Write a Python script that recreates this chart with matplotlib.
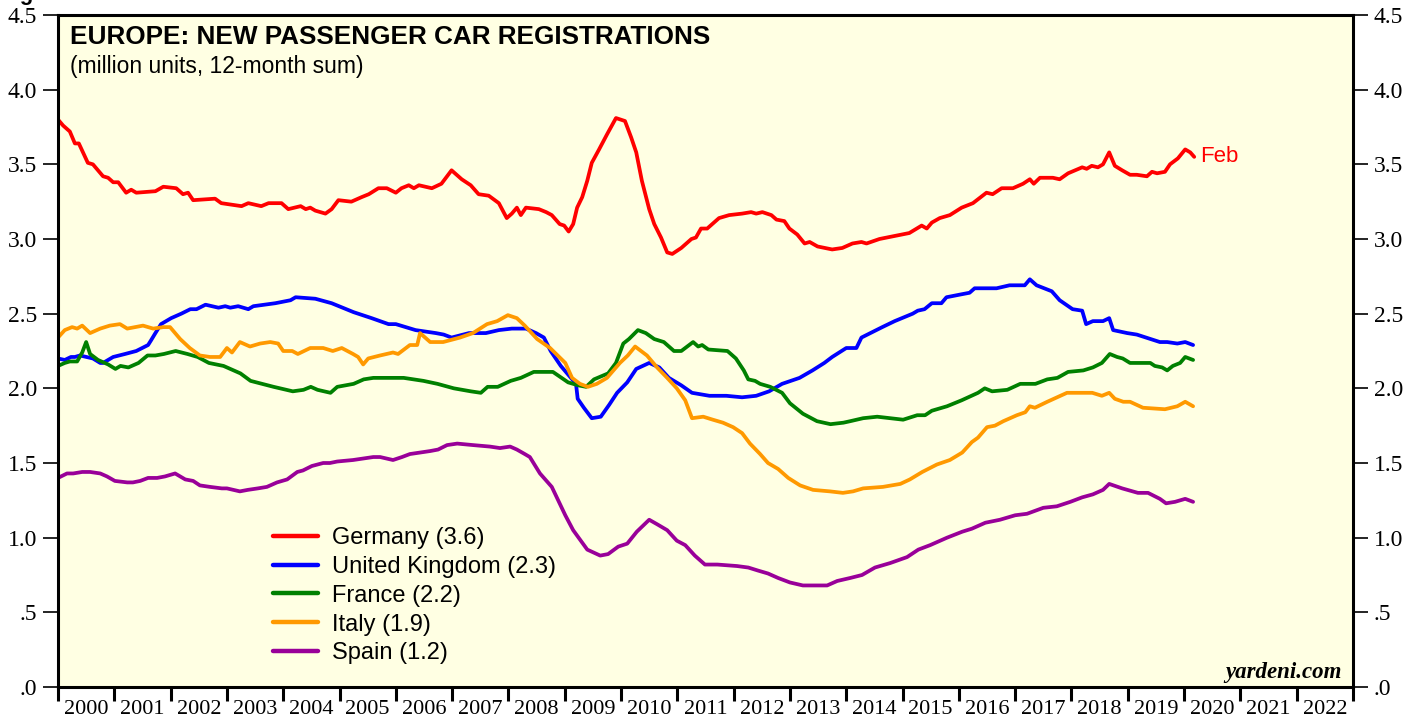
import matplotlib
matplotlib.use("Agg")
import matplotlib.pyplot as plt

# ---- data (decimal years / million units) ----
ge_t = [2000.00, 2000.09, 2000.21, 2000.30, 2000.37, 2000.53, 2000.62, 2000.80, 2000.89, 2000.98,
        2001.07, 2001.21, 2001.30, 2001.39, 2001.73, 2001.87, 2002.10, 2002.22, 2002.31, 2002.40,
        2002.79, 2002.90, 2003.26, 2003.38, 2003.61, 2003.74, 2003.97, 2004.09, 2004.31, 2004.40,
        2004.48, 2004.57, 2004.75, 2004.86, 2004.98, 2005.21, 2005.39, 2005.52, 2005.69, 2005.84,
        2006.00, 2006.10, 2006.23, 2006.32, 2006.41, 2006.64, 2006.81, 2006.99, 2007.17, 2007.33,
        2007.47, 2007.65, 2007.83, 2007.97, 2008.06, 2008.15, 2008.22, 2008.31, 2008.54, 2008.67,
        2008.77, 2008.91, 2008.99, 2009.07, 2009.15, 2009.22, 2009.31, 2009.40, 2009.48, 2009.61,
        2009.75, 2009.91, 2010.07, 2010.18, 2010.27, 2010.37, 2010.50, 2010.59, 2010.71, 2010.82,
        2010.91, 2011.07, 2011.25, 2011.33, 2011.42, 2011.53, 2011.74, 2011.92, 2012.15, 2012.31,
        2012.40, 2012.51, 2012.67, 2012.76, 2012.90, 2012.99, 2013.13, 2013.26, 2013.35, 2013.49,
        2013.75, 2013.93, 2014.11, 2014.27, 2014.36, 2014.59, 2014.86, 2015.12, 2015.34, 2015.43,
        2015.52, 2015.66, 2015.84, 2016.05, 2016.25, 2016.49, 2016.60, 2016.76, 2016.96, 2017.14,
        2017.26, 2017.33, 2017.44, 2017.67, 2017.79, 2017.94, 2018.19, 2018.27, 2018.36, 2018.47,
        2018.56, 2018.67, 2018.77, 2018.90, 2019.04, 2019.16, 2019.34, 2019.43, 2019.52, 2019.66,
        2019.75, 2019.89, 2020.02, 2020.11, 2020.18]
ge_v = [3.80, 3.76, 3.72, 3.64, 3.64, 3.51, 3.50, 3.42, 3.41, 3.38,
        3.38, 3.31, 3.33, 3.31, 3.32, 3.35, 3.34, 3.30, 3.31, 3.26,
        3.27, 3.24, 3.22, 3.24, 3.22, 3.24, 3.24, 3.20, 3.22, 3.20,
        3.21, 3.19, 3.17, 3.20, 3.26, 3.25, 3.28, 3.30, 3.34, 3.34,
        3.31, 3.34, 3.36, 3.34, 3.36, 3.34, 3.37, 3.46, 3.40, 3.36,
        3.30, 3.29, 3.24, 3.14, 3.17, 3.21, 3.16, 3.21, 3.20, 3.18,
        3.16, 3.10, 3.09, 3.05, 3.10, 3.21, 3.28, 3.39, 3.51, 3.60,
        3.70, 3.81, 3.79, 3.68, 3.58, 3.39, 3.20, 3.10, 3.01, 2.91,
        2.90, 2.94, 3.00, 3.01, 3.07, 3.07, 3.14, 3.16, 3.17, 3.18,
        3.17, 3.18, 3.16, 3.13, 3.12, 3.07, 3.03, 2.97, 2.98, 2.95,
        2.93, 2.94, 2.97, 2.98, 2.97, 3.00, 3.02, 3.04, 3.09, 3.07,
        3.11, 3.14, 3.16, 3.21, 3.24, 3.31, 3.30, 3.34, 3.34, 3.37,
        3.40, 3.37, 3.41, 3.41, 3.40, 3.44, 3.48, 3.47, 3.49, 3.48,
        3.50, 3.58, 3.49, 3.46, 3.43, 3.43, 3.42, 3.45, 3.44, 3.45,
        3.50, 3.54, 3.60, 3.58, 3.55]

uk_t = [2000.00, 2000.12, 2000.23, 2000.30, 2000.39, 2000.62, 2000.75, 2000.80, 2000.98, 2001.19,
        2001.39, 2001.60, 2001.65, 2001.73, 2001.83, 2002.01, 2002.19, 2002.35, 2002.46, 2002.62,
        2002.85, 2002.97, 2003.06, 2003.20, 2003.38, 2003.47, 2003.86, 2004.13, 2004.22, 2004.57,
        2004.86, 2005.25, 2005.57, 2005.87, 2006.00, 2006.35, 2006.71, 2006.85, 2006.99, 2007.30,
        2007.60, 2007.83, 2008.06, 2008.31, 2008.49, 2008.63, 2008.75, 2008.93, 2009.11, 2009.20,
        2009.23, 2009.34, 2009.48, 2009.64, 2009.79, 2009.93, 2010.11, 2010.27, 2010.50, 2010.68,
        2010.85, 2011.07, 2011.26, 2011.57, 2011.87, 2012.15, 2012.40, 2012.63, 2012.86, 2013.17,
        2013.40, 2013.61, 2013.75, 2014.00, 2014.18, 2014.27, 2014.64, 2014.86, 2015.18, 2015.27,
        2015.39, 2015.52, 2015.69, 2015.78, 2016.05, 2016.19, 2016.28, 2016.67, 2016.90, 2017.17,
        2017.26, 2017.38, 2017.65, 2017.79, 2018.02, 2018.19, 2018.26, 2018.38, 2018.56, 2018.67,
        2018.74, 2018.99, 2019.16, 2019.57, 2019.70, 2019.88, 2020.02, 2020.16]
uk_v = [2.20, 2.19, 2.21, 2.21, 2.22, 2.20, 2.17, 2.17, 2.21, 2.23,
        2.25, 2.29, 2.32, 2.37, 2.43, 2.47, 2.50, 2.53, 2.53, 2.56,
        2.54, 2.55, 2.54, 2.55, 2.53, 2.55, 2.57, 2.59, 2.61, 2.60,
        2.57, 2.51, 2.47, 2.43, 2.43, 2.39, 2.37, 2.36, 2.34, 2.37,
        2.37, 2.39, 2.40, 2.40, 2.37, 2.34, 2.25, 2.15, 2.07, 2.03,
        1.93, 1.87, 1.80, 1.81, 1.89, 1.97, 2.04, 2.13, 2.17, 2.14,
        2.07, 2.02, 1.97, 1.95, 1.95, 1.94, 1.95, 1.98, 2.03, 2.07,
        2.12, 2.17, 2.21, 2.27, 2.27, 2.34, 2.41, 2.45, 2.50, 2.52,
        2.53, 2.57, 2.57, 2.61, 2.63, 2.64, 2.67, 2.67, 2.69, 2.69,
        2.73, 2.69, 2.65, 2.59, 2.53, 2.52, 2.43, 2.45, 2.45, 2.47,
        2.39, 2.37, 2.36, 2.31, 2.31, 2.30, 2.31, 2.29]

fr_t = [2000.00, 2000.12, 2000.21, 2000.34, 2000.43, 2000.50, 2000.57, 2000.71, 2000.89, 2001.02,
        2001.11, 2001.25, 2001.43, 2001.59, 2001.73, 2001.88, 2002.09, 2002.30, 2002.48, 2002.68,
        2002.94, 2003.24, 2003.42, 2003.83, 2004.17, 2004.36, 2004.49, 2004.61, 2004.84, 2004.96,
        2005.25, 2005.43, 2005.60, 2005.76, 2005.96, 2006.14, 2006.49, 2006.74, 2007.03, 2007.33,
        2007.51, 2007.63, 2007.81, 2008.04, 2008.22, 2008.45, 2008.70, 2008.79, 2009.06, 2009.24,
        2009.38, 2009.52, 2009.77, 2009.91, 2010.04, 2010.14, 2010.30, 2010.44, 2010.59, 2010.76,
        2010.94, 2011.07, 2011.28, 2011.37, 2011.44, 2011.55, 2011.89, 2012.04, 2012.18, 2012.26,
        2012.38, 2012.47, 2012.65, 2012.86, 2013.00, 2013.23, 2013.48, 2013.72, 2013.95, 2014.07,
        2014.30, 2014.55, 2014.78, 2015.01, 2015.26, 2015.40, 2015.52, 2015.79, 2016.05, 2016.34,
        2016.46, 2016.59, 2016.86, 2017.09, 2017.36, 2017.57, 2017.75, 2017.94, 2018.21, 2018.38,
        2018.54, 2018.68, 2018.81, 2018.91, 2019.04, 2019.40, 2019.48, 2019.61, 2019.70, 2019.80,
        2019.93, 2020.02, 2020.16]
fr_v = [2.15, 2.17, 2.18, 2.18, 2.24, 2.31, 2.23, 2.19, 2.16, 2.13,
        2.15, 2.14, 2.17, 2.22, 2.22, 2.23, 2.25, 2.23, 2.21, 2.17,
        2.15, 2.10, 2.05, 2.01, 1.98, 1.99, 2.01, 1.99, 1.97, 2.01,
        2.03, 2.06, 2.07, 2.07, 2.07, 2.07, 2.05, 2.03, 2.00, 1.98,
        1.97, 2.01, 2.01, 2.05, 2.07, 2.11, 2.11, 2.11, 2.04, 2.02,
        2.01, 2.06, 2.10, 2.17, 2.30, 2.33, 2.39, 2.37, 2.33, 2.31,
        2.25, 2.25, 2.31, 2.28, 2.29, 2.26, 2.25, 2.20, 2.12, 2.06,
        2.05, 2.03, 2.01, 1.97, 1.90, 1.83, 1.78, 1.76, 1.77, 1.78,
        1.80, 1.81, 1.80, 1.79, 1.82, 1.82, 1.85, 1.88, 1.92, 1.97,
        2.00, 1.98, 1.99, 2.03, 2.03, 2.06, 2.07, 2.11, 2.12, 2.14,
        2.17, 2.23, 2.21, 2.20, 2.17, 2.17, 2.15, 2.14, 2.12, 2.15,
        2.17, 2.21, 2.19]

it_t = [2000.00, 2000.12, 2000.25, 2000.34, 2000.43, 2000.57, 2000.75, 2000.92, 2001.10, 2001.23,
        2001.37, 2001.51, 2001.69, 2001.87, 2001.99, 2002.17, 2002.34, 2002.52, 2002.70, 2002.88,
        2003.00, 2003.09, 2003.23, 2003.41, 2003.59, 2003.77, 2003.91, 2004.00, 2004.16, 2004.26,
        2004.48, 2004.71, 2004.88, 2005.04, 2005.24, 2005.33, 2005.42, 2005.51, 2005.72, 2005.95,
        2006.04, 2006.25, 2006.38, 2006.43, 2006.61, 2006.84, 2007.14, 2007.37, 2007.62, 2007.80,
        2007.99, 2008.15, 2008.29, 2008.51, 2008.74, 2009.01, 2009.13, 2009.27, 2009.41, 2009.57,
        2009.75, 2009.98, 2010.12, 2010.25, 2010.46, 2010.64, 2010.82, 2010.99, 2011.14, 2011.26,
        2011.46, 2011.63, 2011.81, 2011.99, 2012.15, 2012.29, 2012.47, 2012.61, 2012.79, 2012.97,
        2013.18, 2013.41, 2013.71, 2013.94, 2014.12, 2014.30, 2014.65, 2014.96, 2015.13, 2015.35,
        2015.61, 2015.84, 2016.06, 2016.23, 2016.34, 2016.50, 2016.64, 2016.79, 2017.03, 2017.18,
        2017.26, 2017.35, 2017.57, 2017.92, 2018.10, 2018.24, 2018.37, 2018.54, 2018.67, 2018.77,
        2018.92, 2019.04, 2019.27, 2019.66, 2019.88, 2020.02, 2020.16]
it_v = [2.34, 2.39, 2.41, 2.40, 2.42, 2.37, 2.40, 2.42, 2.43, 2.40,
        2.41, 2.42, 2.40, 2.41, 2.41, 2.33, 2.27, 2.22, 2.21, 2.21,
        2.27, 2.24, 2.31, 2.28, 2.30, 2.31, 2.30, 2.25, 2.25, 2.23,
        2.27, 2.27, 2.25, 2.27, 2.23, 2.21, 2.16, 2.20, 2.22, 2.24,
        2.23, 2.29, 2.29, 2.37, 2.31, 2.31, 2.34, 2.37, 2.43, 2.45,
        2.49, 2.47, 2.42, 2.33, 2.27, 2.17, 2.07, 2.03, 2.01, 2.03,
        2.07, 2.17, 2.22, 2.28, 2.22, 2.14, 2.07, 2.00, 1.92, 1.80,
        1.81, 1.79, 1.77, 1.74, 1.70, 1.63, 1.56, 1.50, 1.46, 1.40,
        1.35, 1.32, 1.31, 1.30, 1.31, 1.33, 1.34, 1.36, 1.39, 1.44,
        1.49, 1.52, 1.57, 1.64, 1.67, 1.74, 1.75, 1.78, 1.82, 1.84,
        1.88, 1.87, 1.91, 1.97, 1.97, 1.97, 1.97, 1.95, 1.97, 1.93,
        1.91, 1.91, 1.87, 1.86, 1.88, 1.91, 1.88]

es_t = [2000.00, 2000.16, 2000.27, 2000.43, 2000.57, 2000.75, 2000.87, 2001.01, 2001.23, 2001.33,
        2001.46, 2001.60, 2001.76, 2001.90, 2002.08, 2002.26, 2002.40, 2002.52, 2002.70, 2002.91,
        2003.00, 2003.23, 2003.37, 2003.55, 2003.71, 2003.89, 2004.07, 2004.25, 2004.35, 2004.51,
        2004.71, 2004.83, 2004.96, 2005.24, 2005.42, 2005.60, 2005.72, 2005.95, 2006.11, 2006.25,
        2006.43, 2006.61, 2006.75, 2006.91, 2007.09, 2007.37, 2007.67, 2007.85, 2008.03, 2008.15,
        2008.29, 2008.38, 2008.56, 2008.77, 2009.01, 2009.15, 2009.40, 2009.63, 2009.77, 2009.95,
        2010.11, 2010.28, 2010.50, 2010.64, 2010.82, 2010.99, 2011.14, 2011.31, 2011.49, 2011.71,
        2012.06, 2012.26, 2012.43, 2012.61, 2012.79, 2013.00, 2013.23, 2013.53, 2013.66, 2013.84,
        2014.07, 2014.28, 2014.51, 2014.78, 2015.08, 2015.28, 2015.49, 2015.79, 2016.06, 2016.23,
        2016.47, 2016.73, 2017.00, 2017.21, 2017.50, 2017.74, 2017.98, 2018.19, 2018.38, 2018.56,
        2018.67, 2018.90, 2019.18, 2019.36, 2019.57, 2019.68, 2019.84, 2020.02, 2020.16]
es_v = [1.40, 1.43, 1.43, 1.44, 1.44, 1.43, 1.41, 1.38, 1.37, 1.37,
        1.38, 1.40, 1.40, 1.41, 1.43, 1.39, 1.38, 1.35, 1.34, 1.33,
        1.33, 1.31, 1.32, 1.33, 1.34, 1.37, 1.39, 1.44, 1.45, 1.48,
        1.50, 1.50, 1.51, 1.52, 1.53, 1.54, 1.54, 1.52, 1.54, 1.56,
        1.57, 1.58, 1.59, 1.62, 1.63, 1.62, 1.61, 1.60, 1.61, 1.59,
        1.56, 1.54, 1.43, 1.34, 1.15, 1.05, 0.92, 0.88, 0.89, 0.94,
        0.96, 1.04, 1.12, 1.09, 1.05, 0.98, 0.95, 0.88, 0.82, 0.82,
        0.81, 0.80, 0.78, 0.76, 0.73, 0.70, 0.68, 0.68, 0.68, 0.71,
        0.73, 0.75, 0.80, 0.83, 0.87, 0.92, 0.95, 1.00, 1.04, 1.06,
        1.10, 1.12, 1.15, 1.16, 1.20, 1.21, 1.24, 1.27, 1.29, 1.32,
        1.36, 1.33, 1.30, 1.30, 1.26, 1.23, 1.24, 1.26, 1.24]

labels = ["Germany (3.6)", "United Kingdom (2.3)", "France (2.2)", "Italy (1.9)", "Spain (1.2)"]
colors = ["#ff0000", "#0000ff", "#008000", "#ff9900", "#990099"]

years = list(range(2000, 2023))
year_labels = [str(y) for y in years]
yticks = [0.0, 0.5, 1.0, 1.5, 2.0, 2.5, 3.0, 3.5, 4.0, 4.5]
ytick_labels = [".0", ".5", "1.0", "1.5", "2.0", "2.5", "3.0", "3.5", "4.0", "4.5"]

# ---- figure ----
fig = plt.figure(figsize=(14.19, 7.19), dpi=100)
ax = fig.add_axes([58 / 1419, 1 - 687 / 719, 1295 / 1419, 672 / 719])
ax.set_facecolor("#ffffe3")

series = [(ge_t, ge_v), (uk_t, uk_v), (fr_t, fr_v), (it_t, it_v), (es_t, es_v)]
for (t, v), c, lab in zip(series, colors, labels):
    ax.plot(t, v, color=c, lw=2.7, label=lab, solid_joinstyle="round", solid_capstyle="round")

ax.set_xlim(2000, 2023)
ax.set_ylim(0, 4.5)

# year boundaries as ticks, labels centred in between
ax.set_xticks(years + [2023])
ax.set_xticklabels([])
ax.set_xticks([y + 0.5 for y in years], minor=True)
ax.set_xticklabels(year_labels, minor=True, family="Liberation Serif", fontsize=16)
ax.tick_params(axis="x", which="major", direction="out", length=10, width=2.2)
ax.tick_params(axis="x", which="minor", length=0, pad=9)

ax.set_yticks(yticks)
ax.set_yticklabels(ytick_labels, family="Liberation Serif", fontsize=17)
ax.tick_params(axis="y", direction="out", length=11, width=1.2, pad=4,
               right=True, labelright=True, left=True, labelleft=True)

for s in ax.spines.values():
    s.set_linewidth(2.2)

ax.text(0.009, 0.968, "EUROPE: NEW PASSENGER CAR REGISTRATIONS", transform=ax.transAxes,
        family="Liberation Sans", fontweight="bold", fontsize=18.8, va="center")
ax.text(0.009, 0.923, "(million units, 12-month sum)", transform=ax.transAxes,
        family="Liberation Sans", fontsize=16.5, va="center")

ax.text(ge_t[-1] + 0.1, ge_v[-1], "Feb", color="#ff0000", family="Liberation Sans",
        fontsize=16, va="center")

ax.text(0.9915, 0.022, "yardeni.com", transform=ax.transAxes, ha="right", va="center",
        family="Liberation Serif", fontweight="bold", style="italic", fontsize=16.5)

# chart number above the frame, only its descender shows in the source
fig.text(0.0, 0.9995, "Figure 1.", family="Liberation Sans", fontweight="bold",
         fontsize=16, va="baseline")

leg = ax.legend(loc="upper left", bbox_to_anchor=(0.166, 0.238), frameon=False,
                prop={"family": "Liberation Sans", "size": 17}, handlelength=1.9,
                handletextpad=0.6, labelspacing=0.29, borderpad=0, borderaxespad=0)
for line in leg.get_lines():
    line.set_linewidth(3.2)

fig.savefig("out.png", dpi=100)
